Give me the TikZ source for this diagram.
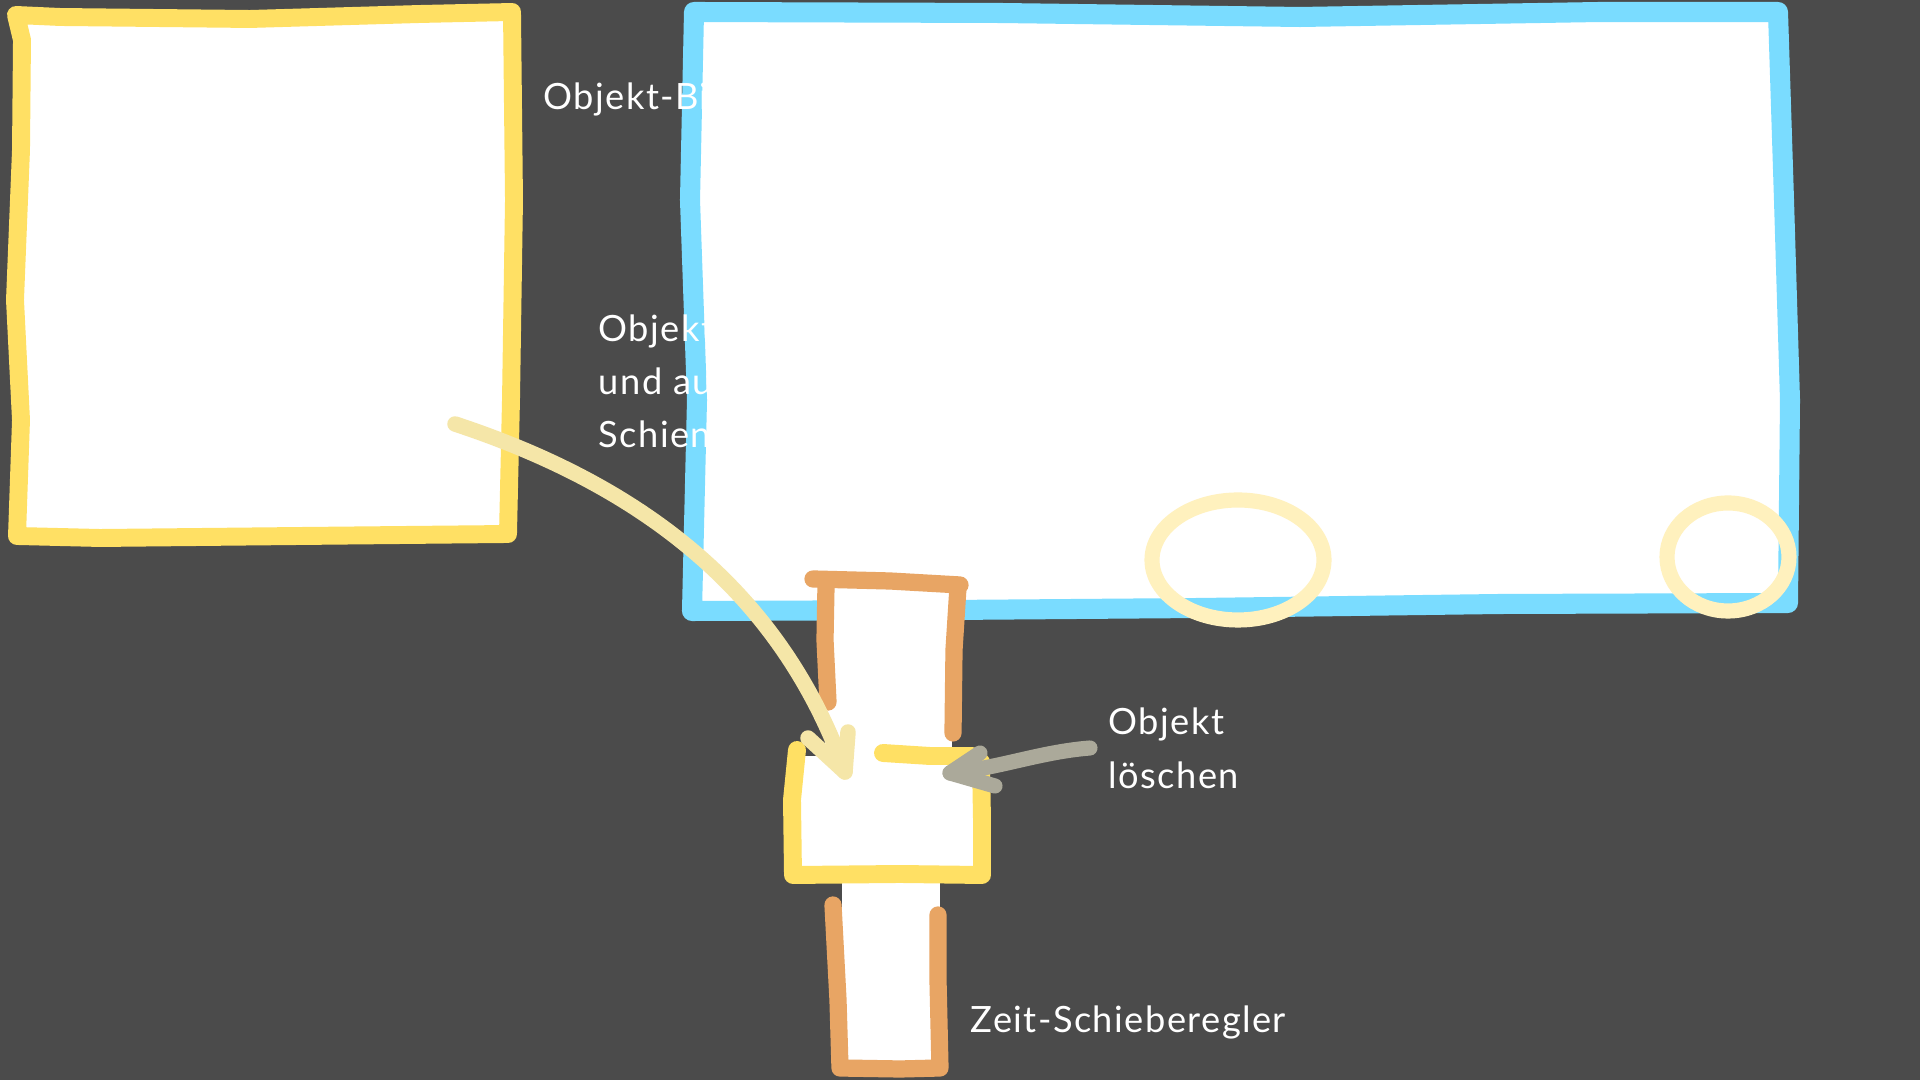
\documentclass[tikz,border=0pt]{standalone}
\usepackage{fontspec}
\setmainfont{Lato}[LetterSpace=4]
\definecolor{bgc}{RGB}{75,75,75}
\definecolor{ylw}{RGB}{255,224,100}
\definecolor{blu}{RGB}{122,220,255}
\definecolor{org}{RGB}{232,165,100}
\definecolor{cream}{RGB}{255,241,190}
\definecolor{pale}{RGB}{245,230,168}
\definecolor{greyarrow}{RGB}{171,169,154}
\tikzset{
  lbl/.style={text=white, font=\fontsize{10.3pt}{15pt}\selectfont, anchor=base west, inner sep=0pt},
  ypen/.style={draw=ylw, line width=5.1pt},
  bpen/.style={draw=blu, line width=5.7pt},
  open/.style={draw=org, line width=4.9pt},
  ring/.style={draw=cream, line width=4.3pt},
  palepen/.style={draw=pale, line width=4.4pt},
  greypen/.style={draw=greyarrow, line width=4.3pt},
  paper/.style={fill=white}
}
\begin{document}
\begin{tikzpicture}[x=0.01cm,y=-0.01cm,line cap=round,line join=round]
\useasboundingbox (0,0) rectangle (1920,1080);
\fill[bgc] (0,0) rectangle (1920,1080);

% left object library box
\draw[ypen,paper] (16,15) -- (60,17) -- (250,19) -- (420,14) -- (512,12) -- (514,200) -- (511,400) -- (508,534)
  -- (300,536) -- (100,538) -- (17,536) -- (21,420) -- (15,300) -- (21,150) -- (22,40) -- cycle;

% main canvas box
\draw[bpen,paper] (694,12) -- (1000,13) -- (1300,17) -- (1600,12) -- (1778,12) -- (1784,200)
  -- (1790,400) -- (1788,603) -- (1500,604) -- (1200,608) -- (950,610) -- (692,611)
  -- (697,400) -- (690,200) -- cycle;

% circles on canvas
\draw[ring] (1238,560) ellipse [x radius=86, y radius=60];
\draw[ring] (1728,557) ellipse [x radius=61, y radius=54];

% slider whites
\fill[white] (825,587) rectangle (952,762);
\fill[white] (797,756) rectangle (978,872);
\fill[white] (842,878) rectangle (940,1064);

% upper orange track
\draw[open] (813,579) -- (890,581) -- (960,585);
\draw[open] (826,586) -- (825,640) -- (828,702);
\draw[open] (958,587) -- (954,650) -- (953,733);

% yellow object box on the track
\draw[ypen] (797,750) -- (792,800) -- (793,875) -- (900,874) -- (982,875) -- (982,820) -- (981,762);
\draw[ypen] (883,753) -- (930,756) -- (972,756);

% lower orange track
\draw[open] (833,905) -- (838,1000) -- (840,1068) -- (900,1069) -- (940,1068) -- (938,980) -- (938,915);

% drag arrow
\coordinate (dragStart) at (455,424);
\coordinate (dragTip) at (845,772);
\coordinate (dragWingA) at (808,738);
\coordinate (dragWingB) at (848,732);
\draw[palepen] (dragStart) .. controls (640,485) and (780,590) .. (dragTip);
\draw[palepen] (dragWingA) -- (dragTip) -- (dragWingB);

% delete arrow
\coordinate (delStart) at (1090,748);
\coordinate (delTip) at (950,773);
\coordinate (delWingA) at (980,753);
\coordinate (delWingB) at (995,786);
\draw[greypen] (delStart) .. controls (1040,752) and (1000,768) .. (delTip);
\draw[greypen] (delWingA) -- (delTip) -- (delWingB);

% labels (white text: invisible where it runs over the white canvas)
\node[lbl] (lblLib) at (543,110) {Objekt-Bibliothek};
\node[lbl] (lblDragA) at (598,342) {Objekt ziehen};
\node[lbl] (lblDragB) at (598,395) {und auf die};
\node[lbl] (lblDragC) at (598,448) {Schiene legen};
\node[lbl] (lblDelA) at (1108,735) {Objekt};
\node[lbl] (lblDelB) at (1108,789) {löschen};
\node[lbl] (lblTime) at (970,1033) {Zeit-Schieberegler};
\end{tikzpicture}
\end{document}
